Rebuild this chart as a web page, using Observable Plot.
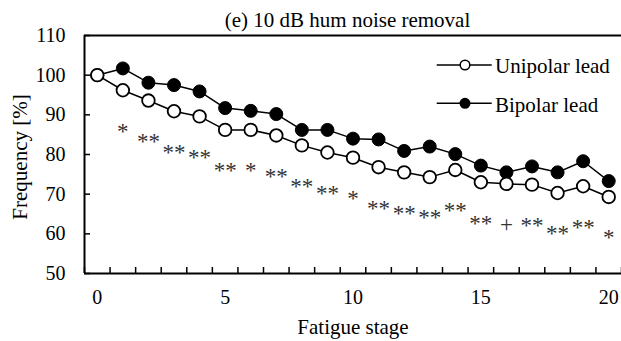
<!DOCTYPE html>
<html><head><meta charset="utf-8">
<script src="https://cdn.jsdelivr.net/npm/d3@7"></script>
<script src="https://cdn.jsdelivr.net/npm/@observablehq/plot@0.6"></script>
<style>
body{margin:0;background:#fff;}
#wrap{position:relative;width:621px;height:341px;overflow:hidden;}
#wrap svg{position:absolute;left:0;top:0;}
</style></head><body><div id="wrap"></div>
<script>
const title = "(e) 10 dB hum noise removal";
const xLabel = "Fatigue stage";
const yLabel = "Frequency [%]";
const seriesNames = ["Unipolar lead", "Bipolar lead"];
const stages = [0,1,2,3,4,5,6,7,8,9,10,11,12,13,14,15,16,17,18,19,20];
const unipolar = [100,96.2,93.6,90.9,89.6,86.2,86.2,84.8,82.3,80.5,79.2,76.8,75.5,74.3,76.1,73.0,72.6,72.4,70.3,72.0,69.3];
const bipolar  = [100,101.7,98.1,97.5,95.9,91.7,91.0,90.2,86.2,86.2,84.0,83.8,80.9,82.0,80.1,77.2,75.5,77.0,75.5,78.3,73.3];
const significance = ["","*","**","**","**","**","*","**","**","**","*","**","**","**","**","**","+","**","**","**","*"];
const yTicks = [50,60,70,80,90,100,110];
const xTickLabels = [0,5,10,15,20];
const xTickMarks = [-0.5,0.5,1.5,2.5,3.5,4.5,5.5,6.5,7.5,8.5,9.5,10.5,11.5,12.5,13.5,14.5,15.5,16.5,17.5,18.5,19.5,20.5];

const data = stages.map((s, i) => ({stage: s, uni: unipolar[i], bi: bipolar[i], sig: significance[i]}));
const font = "'Times New Roman', Times, Tinos, 'Liberation Serif', 'Noto Serif', 'DejaVu Serif', FreeSerif, 'Nimbus Roman', serif";
document.getElementById("wrap").style.fontFamily = font;

const chart = Plot.plot({
  width: 621, height: 341,
  marginLeft: 84, marginRight: 0, marginTop: 35, marginBottom: 68,
  style: {fontFamily: font, fontSize: "20px", color: "#000", background: "#fff"},
  x: {domain: [-0.5, 20.5]},
  y: {domain: [50, 110]},
  marks: [
    Plot.axisY({ticks: yTicks, tickSize: -6, tickPadding: 25, label: null, strokeWidth: 1.5, tickFormat: d => d}),
    Plot.axisX({ticks: xTickMarks, tickSize: -6, label: null, strokeWidth: 1.5, tickFormat: () => ""}),
    Plot.axisX({ticks: xTickLabels, tickSize: 0, tickPadding: 16, label: null, tickFormat: d => d}),
    Plot.ruleY([50, 110], {stroke: "#000", strokeWidth: 2}),
    Plot.ruleX([-0.5], {stroke: "#000", strokeWidth: 2}),
    Plot.line(data, {x: "stage", y: "bi", stroke: "#000", strokeWidth: 1.5}),
    Plot.line(data, {x: "stage", y: "uni", stroke: "#000", strokeWidth: 1.5}),
    Plot.dot(data, {x: "stage", y: "bi", r: 6.5, fill: "#000", stroke: "#000", strokeWidth: 1}),
    Plot.dot(data, {x: "stage", y: "uni", r: 6.3, fill: "#fff", stroke: "#000", strokeWidth: 1.8}),
    Plot.text(data.filter(d => d.sig), {x: "stage", y: "uni", text: "sig", dy: 41, fontSize: 23, fill: "#333"})
  ]
});
document.getElementById("wrap").appendChild(chart);

const ov = d3.select("#wrap").append("svg").attr("width", 621).attr("height", 341)
  .style("font-family", font).style("pointer-events", "none");
ov.append("text").attr("x", 347.5).attr("y", 26.7).attr("text-anchor", "middle").attr("font-size", 21).attr("fill", "#000").text(title);
ov.append("text").attr("x", 353).attr("y", 334).attr("text-anchor", "middle").attr("font-size", 21).attr("fill", "#000").text(xLabel);
ov.append("text").attr("transform", "translate(27,157) rotate(-90)").attr("text-anchor", "middle").attr("font-size", 21).attr("fill", "#000").text(yLabel);
const legendRows = [{name: seriesNames[0], fill: "#fff", ly: 65}, {name: seriesNames[1], fill: "#000", ly: 103.3}];
for (const r of legendRows) {
  const g = ov.append("g");
  g.append("line").attr("x1", 436.7).attr("x2", 491.7).attr("y1", r.ly).attr("y2", r.ly).attr("stroke", "#000").attr("stroke-width", 1.5);
  g.append("circle").attr("cx", 465).attr("cy", r.ly).attr("r", 4.8).attr("fill", r.fill).attr("stroke", "#000").attr("stroke-width", 1.5);
  g.append("text").attr("x", 495).attr("y", r.ly + 8.4).attr("font-size", 21).attr("fill", "#000").text(r.name);
}
</script>
</body></html>
